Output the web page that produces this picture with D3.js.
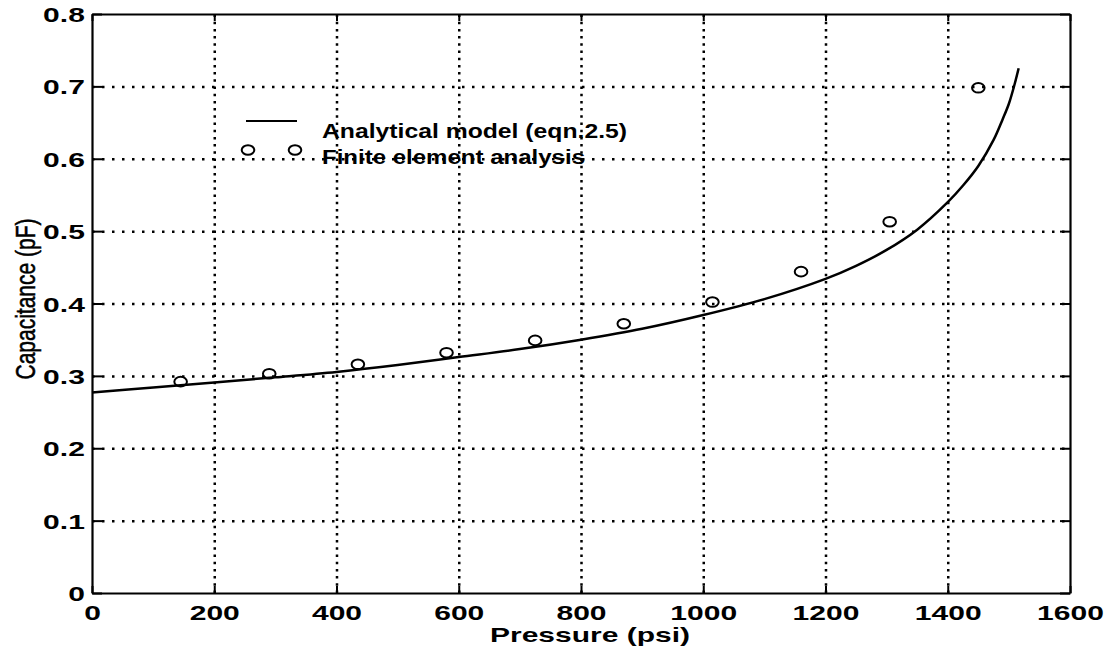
<!DOCTYPE html>
<meta charset="utf-8">
<style>
body { margin: 0; background: #fff; }
text { font-family: "Liberation Sans", Arial, sans-serif; fill: #000; }
</style>
<body>
<script src="https://cdn.jsdelivr.net/npm/d3@7"></script>
<script>

// analytical model
var modelP = [0, 100, 200, 300, 400, 500, 600, 700, 800, 900, 1000, 1100, 1200, 1250, 1300, 1350, 1400, 1425, 1450, 1475, 1490, 1500, 1510, 1516];
var modelC = [0.277, 0.284, 0.291, 0.298, 0.3055, 0.315, 0.326, 0.337, 0.350, 0.365, 0.384, 0.406, 0.434, 0.452, 0.474, 0.502, 0.540, 0.563, 0.590, 0.626, 0.655, 0.676, 0.705, 0.725];

// finite element points
var femP = [145, 290, 435, 580, 725, 870, 1015, 1160, 1305, 1450];
var femC = [0.292, 0.303, 0.316, 0.332, 0.349, 0.372, 0.402, 0.444, 0.513, 0.698];

var xTicks = [0, 200, 400, 600, 800, 1000, 1200, 1400, 1600];
var yTicks = [0, 0.1, 0.2, 0.3, 0.4, 0.5, 0.6, 0.7, 0.8];
var legendLabels = ["Analytical model (eqn.2.5)", "Finite element analysis"];

var width = 1114, height = 655;
var pLeft = 92, pRight = 1070, pTop = 14, pBottom = 593;
var stretch = 1.43; // the scan is wider than tall

var x = d3.scaleLinear().domain([0, 1600]).range([pLeft, pRight]);
var y = d3.scaleLinear().domain([0, 0.8]).range([pBottom, pTop]);

var svg = d3.select("body").append("svg")
   .attr("width", width)
   .attr("height", height);

// dotted grid
svg.append("g")
  .attr("transform", "translate(0," + pBottom + ")")
  .call(d3.axisBottom(x).tickValues(xTicks.slice(1, -1)).tickSize(-(pBottom - pTop)).tickSizeOuter(0).tickFormat(""))
  .call(function(g){
    g.select(".domain").remove();
    g.selectAll("line").attr("stroke", "#000").attr("stroke-width", 2.5).attr("stroke-dasharray", "2.5,4.7");
  });

svg.append("g")
  .attr("transform", "translate(" + pLeft + ",0)")
  .call(d3.axisLeft(y).tickValues(yTicks.slice(1, -1)).tickSize(-(pRight - pLeft)).tickSizeOuter(0).tickFormat(""))
  .call(function(g){
    g.select(".domain").remove();
    g.selectAll("line").attr("stroke", "#000").attr("stroke-width", 2.5).attr("stroke-dasharray", "2.5,7.5");
  });

// frame and inward ticks
function frame(g){
  g.select(".domain").attr("stroke", "#000").attr("stroke-width", 2.2);
  g.selectAll("line").attr("stroke", "#000").attr("stroke-width", 2);
}

var gBottom = svg.append("g")
  .attr("transform", "translate(0," + pBottom + ")")
  .call(d3.axisBottom(x).tickValues(xTicks).tickSize(-7).tickSizeOuter(0).tickFormat(d3.format("d")))
  .call(frame);
gBottom.selectAll("text")
  .attr("y", 27).attr("dy", 0)
  .attr("transform", "scale(" + stretch + ",1)")
  .style("font-size", "21px").style("font-weight", "bold");

var gLeft = svg.append("g")
  .attr("transform", "translate(" + pLeft + ",0)")
  .call(d3.axisLeft(y).tickValues(yTicks).tickSize(-10).tickSizeOuter(0).tickFormat(function(d){ return d === 0 ? "0" : d3.format(".1f")(d); }))
  .call(frame);
gLeft.selectAll("text")
  .attr("x", -5).attr("dy", "0.36em")
  .attr("transform", "scale(" + stretch + ",1)")
  .style("font-size", "21px").style("font-weight", "bold");

svg.append("g")
  .attr("transform", "translate(0," + pTop + ")")
  .call(d3.axisTop(x).tickValues(xTicks).tickSize(-7).tickSizeOuter(0).tickFormat(""))
  .call(frame);

svg.append("g")
  .attr("transform", "translate(" + pRight + ",0)")
  .call(d3.axisRight(y).tickValues(yTicks).tickSize(-10).tickSizeOuter(0).tickFormat(""))
  .call(frame);

// model curve
var line = d3.line()
  .x(function(d){ return x(d[0]); })
  .y(function(d){ return y(d[1]); })
  .curve(d3.curveCatmullRom.alpha(0.5));

svg.append("path")
  .datum(d3.zip(modelP, modelC))
  .attr("d", line)
  .attr("fill", "none")
  .attr("stroke", "#000")
  .attr("stroke-width", 2.5);

// fem circles
svg.selectAll("ellipse.fem")
  .data(d3.zip(femP, femC))
  .enter().append("ellipse")
  .attr("class", "fem")
  .attr("cx", function(d){ return x(d[0]); })
  .attr("cy", function(d){ return y(d[1]); })
  .attr("rx", 6.3).attr("ry", 4.8)
  .attr("fill", "none")
  .attr("stroke", "#000")
  .attr("stroke-width", 2);

// legend
svg.append("line")
  .attr("x1", 246).attr("x2", 297)
  .attr("y1", 121).attr("y2", 121)
  .attr("stroke", "#000").attr("stroke-width", 2);

svg.selectAll("ellipse.leg")
  .data([248, 295])
  .enter().append("ellipse")
  .attr("class", "leg")
  .attr("cx", function(d){ return d; })
  .attr("cy", 150)
  .attr("rx", 6.3).attr("ry", 4.8)
  .attr("fill", "none").attr("stroke", "#000").attr("stroke-width", 2);

svg.selectAll("text.leg")
  .data(legendLabels)
  .enter().append("text")
  .attr("class", "leg")
  .attr("x", 322)
  .attr("y", function(d, i){ return i ? 164 : 137.5; })
  .attr("textLength", function(d, i){ return i ? 263 : 305; })
  .attr("lengthAdjust", "spacingAndGlyphs")
  .style("font-size", "20px").style("font-weight", "bold")
  .text(function(d){ return d; });

// axis titles
svg.append("text")
  .attr("x", 490).attr("y", 642)
  .attr("textLength", 200)
  .attr("lengthAdjust", "spacingAndGlyphs")
  .style("font-size", "21px").style("font-weight", "bold")
  .text("Pressure (psi)");

svg.append("text")
  .attr("transform", "translate(35,299) scale(1.3,1) rotate(-90)")
  .attr("text-anchor", "middle")
  .style("font-size", "21px")
  .style("stroke", "#000").style("stroke-width", 0.4)
  .text("Capacitance (pF)");

</script>
</body>
